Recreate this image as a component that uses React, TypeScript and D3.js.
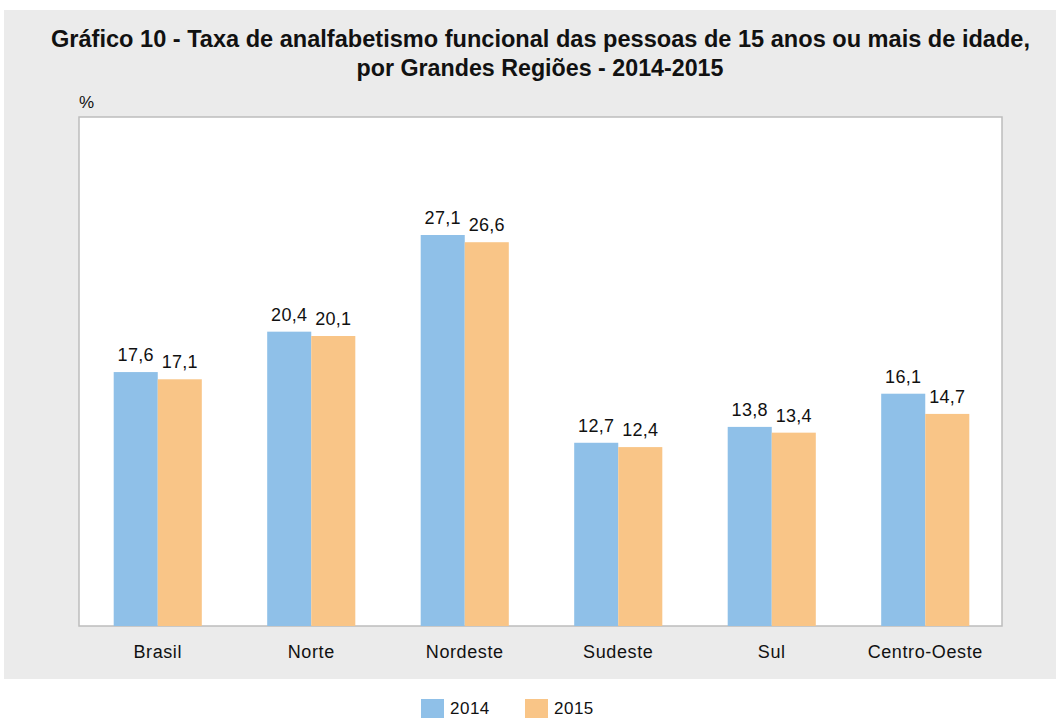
import React from "react";
import * as d3 from "d3";

const categories = ["Brasil", "Norte", "Nordeste", "Sudeste", "Sul", "Centro-Oeste"];
const series = ["2014", "2015"];
const values2014 = [17.6, 20.4, 27.1, 12.7, 13.8, 16.1];
const values2015 = [17.1, 20.1, 26.6, 12.4, 13.4, 14.7];
const colors = ["#8fc0e8", "#f9c587"];

const W = 1056;
const H = 718;
const plot = { left: 79, right: 1002, top: 117, bottom: 626 };

export default function App() {
  const x = d3
    .scaleBand<string>()
    .domain(categories)
    .range([81, 1002])
    .paddingInner(0.426)
    .paddingOuter(0.213);
  const x1 = d3.scaleBand<string>().domain(series).range([0, x.bandwidth()]);
  const y = d3.scaleLinear().domain([0, 27.1]).range([plot.bottom, 235]);
  const data = [values2014, values2015];
  const fmt = (v: number) => v.toFixed(1).replace(".", ",");
  const sans = "'Liberation Sans', Arial, Helvetica, sans-serif";

  return (
    <svg
      width={W}
      height={H}
      style={{ position: "absolute", left: 0, top: 0, display: "block" }}
      xmlns="http://www.w3.org/2000/svg"
    >
      <rect x={0} y={0} width={W} height={H} fill="#ffffff" />
      <rect x={4} y={10} width={W - 4} height={669} fill="#ebebeb" />
      <text
        x={540.5}
        y={47}
        textAnchor="middle"
        fontFamily={sans}
        fontWeight="bold"
        fontSize={23}
        fill="#111"
        textLength={979}
        lengthAdjust="spacingAndGlyphs"
      >
        Gráfico 10 - Taxa de analfabetismo funcional das pessoas de 15 anos ou mais de idade,
      </text>
      <text
        x={540}
        y={76}
        textAnchor="middle"
        fontFamily={sans}
        fontWeight="bold"
        fontSize={23}
        fill="#111"
        textLength={367}
        lengthAdjust="spacingAndGlyphs"
      >
        por Grandes Regiões - 2014-2015
      </text>
      <text x={79} y={108} fontFamily={sans} fontSize={17} fill="#111">
        %
      </text>
      <rect
        x={plot.left}
        y={plot.top}
        width={plot.right - plot.left}
        height={plot.bottom - plot.top}
        fill="#ffffff"
        stroke="#bdbdbd"
        strokeWidth={1.5}
      />
      {categories.map((c, i) => (
        <g key={c} transform={`translate(${x(c)},0)`}>
          {series.map((s, j) => {
            const v = data[j][i];
            const bx = x1(s)!;
            return (
              <g key={s}>
                <rect
                  x={bx}
                  y={y(v)}
                  width={x1.bandwidth()}
                  height={plot.bottom - y(v)}
                  fill={colors[j]}
                />
                <text
                  x={bx + x1.bandwidth() / 2}
                  y={y(v) - 11}
                  textAnchor="middle"
                  fontFamily={sans}
                  fontSize={18}
                  letterSpacing={0.3}
                  fill="#111"
                >
                  {fmt(v)}
                </text>
              </g>
            );
          })}
          <text
            x={x.bandwidth() / 2}
            y={658}
            textAnchor="middle"
            fontFamily={sans}
            fontSize={18}
            letterSpacing={0.6}
            fill="#111"
          >
            {c}
          </text>
        </g>
      ))}
      {series.map((s, j) => (
        <g key={s} transform={`translate(${421 + j * 104},699)`}>
          <rect x={0} y={0} width={23} height={19} fill={colors[j]} />
          <text x={29} y={15} fontFamily={sans} fontSize={17} letterSpacing={0.5} fill="#111">
            {s}
          </text>
        </g>
      ))}
    </svg>
  );
}
